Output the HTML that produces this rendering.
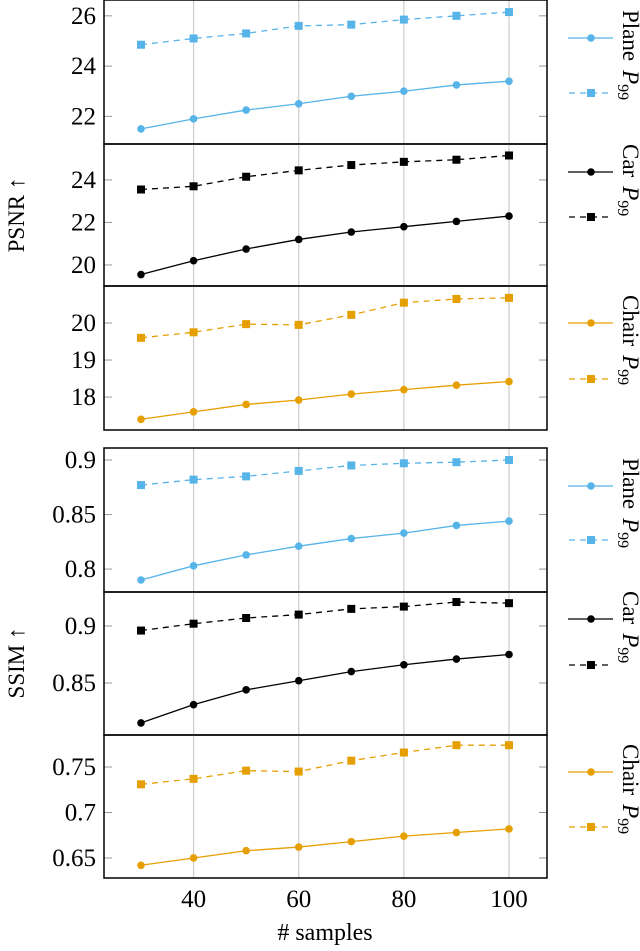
<!DOCTYPE html>
<html><head><meta charset="utf-8"><style>
html,body{margin:0;padding:0;background:#fff}
svg{display:block;font-family:"Liberation Serif",serif}
</style></head><body>
<svg id="chart" width="640" height="951" viewBox="0 0 640 951" xmlns="http://www.w3.org/2000/svg">
<text transform="translate(24,215) rotate(-90)" text-anchor="middle" font-size="23">PSNR ↑</text>
<text transform="translate(24,663) rotate(-90)" text-anchor="middle" font-size="23">SSIM ↑</text>
<text x="325" y="940" text-anchor="middle" font-size="24"># samples</text>
</svg>
<script>
const samples=[30,40,50,60,70,80,90,100];
const xTicks=[40,60,80,100];
const planePsnr=[21.5,21.9,22.25,22.5,22.8,23.0,23.25,23.4];
const planePsnrP99=[24.85,25.1,25.3,25.6,25.65,25.85,26.0,26.15];
const carPsnr=[19.55,20.2,20.75,21.2,21.55,21.8,22.05,22.3];
const carPsnrP99=[23.55,23.7,24.15,24.45,24.7,24.85,24.95,25.15];
const chairPsnr=[17.4,17.6,17.8,17.92,18.08,18.2,18.32,18.42];
const chairPsnrP99=[19.6,19.75,19.97,19.95,20.22,20.55,20.65,20.68];
const planeSsim=[0.790,0.803,0.813,0.821,0.828,0.833,0.840,0.844];
const planeSsimP99=[0.877,0.882,0.885,0.890,0.895,0.897,0.898,0.900];
const carSsim=[0.815,0.831,0.844,0.852,0.860,0.866,0.871,0.875];
const carSsimP99=[0.896,0.902,0.907,0.910,0.915,0.917,0.921,0.920];
const chairSsim=[0.642,0.650,0.658,0.662,0.668,0.674,0.678,0.682];
const chairSsimP99=[0.731,0.737,0.746,0.745,0.757,0.766,0.774,0.774];
const ticks1=[22,24,26], ticks2=[20,22,24], ticks3=[18,19,20];
const ticks4=[0.8,0.85,0.9], ticks5=[0.85,0.9], ticks6=[0.65,0.7,0.75];
const lab1=["22","24","26"], lab2=["20","22","24"], lab3=["18","19","20"];
const lab4=["0.8","0.85","0.9"], lab5=["0.85","0.9"], lab6=["0.65","0.7","0.75"];

const svg=document.getElementById('chart');
const NS='http://www.w3.org/2000/svg';
const L=104,R=547;
const xs=v=>141+(v-30)*(368/70);
function mk(tag,attrs,parent){const e=document.createElementNS(NS,tag);for(const k in attrs)e.setAttribute(k,attrs[k]);(parent||svg).appendChild(e);return e;}
const panels=[
 {name:'plane-psnr',top:0,bot:144,vmax:26.63,vmin:20.9,ticks:ticks1,labs:lab1,a:planePsnr,b:planePsnrP99,color:'#56B4E9',label:'Plane',l1:38,l2:93},
 {name:'car-psnr',top:144,bot:286,vmax:25.69,vmin:19.01,ticks:ticks2,labs:lab2,a:carPsnr,b:carPsnrP99,color:'#000',label:'Car',l1:172,l2:217},
 {name:'chair-psnr',top:286,bot:430,vmax:21.0,vmin:17.11,ticks:ticks3,labs:lab3,a:chairPsnr,b:chairPsnrP99,color:'#E69F00',label:'Chair',l1:323,l2:379},
 {name:'plane-ssim',top:448,bot:592,vmax:0.911,vmin:0.779,ticks:ticks4,labs:lab4,a:planeSsim,b:planeSsimP99,color:'#56B4E9',label:'Plane',l1:486,l2:540},
 {name:'car-ssim',top:592,bot:735,vmax:0.9298,vmin:0.8044,ticks:ticks5,labs:lab5,a:carSsim,b:carSsimP99,color:'#000',label:'Car',l1:619,l2:665},
 {name:'chair-ssim',top:735,bot:878,vmax:0.7852,vmin:0.628,ticks:ticks6,labs:lab6,a:chairSsim,b:chairSsimP99,color:'#E69F00',label:'Chair',l1:772,l2:827}
];
panels.forEach((p,pi)=>{
 const g=mk('g',{});
 
 
 const ys=v=>p.top+(p.vmax-v)/(p.vmax-p.vmin)*(p.bot-p.top);
 xTicks.forEach(t=>{const gl=mk('line',{x1:xs(t),x2:xs(t),y1:p.top,y2:p.bot,stroke:'#ccc','stroke-width':1.2},g);
  });
 p.ticks.forEach((t,i)=>{const y=ys(t);
  mk('line',{x1:L,x2:L+8,y1:y,y2:y,stroke:'#999','stroke-width':1},g);
  mk('line',{x1:R-8,x2:R,y1:y,y2:y,stroke:'#999','stroke-width':1},g);
  const tx=mk('text',{x:L-8,y:y+8,'text-anchor':'end','font-size':25},g);tx.textContent=p.labs[i];
  });
 [[p.a,false],[p.b,true]].forEach(([arr,dash])=>{
  const pts=arr.map((v,i)=>xs(samples[i])+','+ys(v)).join(' ');
  const pl=mk('polyline',{points:pts,fill:'none',stroke:p.color,'stroke-width':1.3,'stroke-dasharray':dash?'6,5':'none'},g);
  
  
  arr.forEach((v,i)=>{const cx=xs(samples[i]),cy=ys(v);
   const m=dash?mk('rect',{x:cx-4,y:cy-4,width:8,height:8,fill:p.color},g):mk('circle',{cx:cx,cy:cy,r:3.8,fill:p.color},g);
   });
 });
 const fr=mk('rect',{x:L,y:p.top,width:R-L,height:p.bot-p.top,fill:'none',stroke:'#000','stroke-width':1.5},g);
 
 const lg=mk('g',{},g);
 
 
 mk('line',{x1:568,x2:613,y1:p.l1,y2:p.l1,stroke:p.color,'stroke-width':1.3},lg);
 mk('circle',{cx:591,cy:p.l1,r:3.8,fill:p.color},lg);
 mk('line',{x1:568,x2:613,y1:p.l2,y2:p.l2,stroke:p.color,'stroke-width':1.3,'stroke-dasharray':'6,5','stroke-dashoffset':'-1'},lg);
 mk('rect',{x:587,y:p.l2-4,width:8,height:8,fill:p.color},lg);
 const lt=mk('text',{transform:'translate(623,'+(p.l1-28)+') rotate(90)','font-size':23},lg);
 lt.innerHTML=p.label+'<tspan dx="9" font-style="italic">P</tspan><tspan font-size="16" dy="5">99</tspan>';
 
});
xTicks.forEach(t=>{const tx=mk('text',{x:xs(t),y:907,'text-anchor':'middle','font-size':25});tx.textContent=t;
 });
</script>
</body></html>
